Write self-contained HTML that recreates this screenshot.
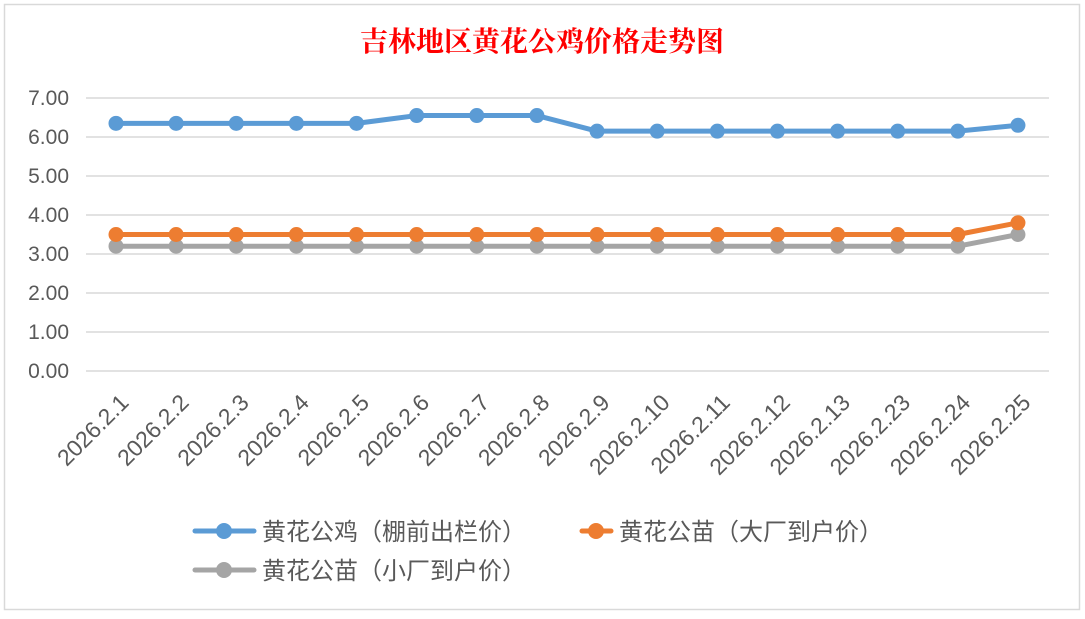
<!DOCTYPE html><html><head><meta charset="utf-8"><style>body{margin:0;background:#fff}</style></head><body>
<svg width="1085" height="614" xmlns="http://www.w3.org/2000/svg" font-family="Liberation Sans, Noto Sans CJK SC, sans-serif">
<rect x="0" y="0" width="1085" height="614" fill="#fff"/>
<rect x="4.5" y="4.5" width="1075" height="605" fill="#fff" stroke="#d9d9d9" stroke-width="1.5"/>
<text x="542" y="51" text-anchor="middle" font-family="Noto Serif CJK SC, serif" font-size="28" font-weight="bold" fill="#ff0000">吉林地区黄花公鸡价格走势图</text>
<g stroke="#d9d9d9" stroke-width="1.5">
<line x1="86" x2="1049" y1="98" y2="98"/><line x1="86" x2="1049" y1="137" y2="137"/><line x1="86" x2="1049" y1="176" y2="176"/><line x1="86" x2="1049" y1="215" y2="215"/><line x1="86" x2="1049" y1="254" y2="254"/><line x1="86" x2="1049" y1="293" y2="293"/><line x1="86" x2="1049" y1="332" y2="332"/><line x1="86" x2="1049" y1="371" y2="371"/>
</g>
<g font-size="21" fill="#595959" text-anchor="end">
<text x="69" y="105">7.00</text><text x="69" y="144">6.00</text><text x="69" y="183">5.00</text><text x="69" y="222">4.00</text><text x="69" y="261">3.00</text><text x="69" y="300">2.00</text><text x="69" y="339">1.00</text><text x="69" y="378">0.00</text>
</g>
<g id="labels" font-size="23" fill="#595959" text-anchor="end"></g>
<g id="series"></g>
<g font-size="24" fill="#595959" font-family="Noto Sans CJK SC, sans-serif">
<line x1="195" x2="254" y1="531" y2="531" stroke="#5b9bd5" stroke-width="5" stroke-linecap="round"/><circle cx="224" cy="531" r="8" fill="#5b9bd5"/>
<text x="262" y="540">黄花公鸡（棚前出栏价）</text>
<line x1="582" x2="611" y1="531" y2="531" stroke="#ed7d31" stroke-width="5" stroke-linecap="round"/><circle cx="596" cy="531" r="8" fill="#ed7d31"/>
<text x="619" y="540">黄花公苗（大厂到户价）</text>
<line x1="195" x2="254" y1="570" y2="570" stroke="#a5a5a5" stroke-width="5" stroke-linecap="round"/><circle cx="224" cy="570" r="8" fill="#a5a5a5"/>
<text x="262" y="579">黄花公苗（小厂到户价）</text>
</g>
</svg>
<script>
var ns="http://www.w3.org/2000/svg";
var labs=["2026.2.1","2026.2.2","2026.2.3","2026.2.4","2026.2.5","2026.2.6","2026.2.7","2026.2.8","2026.2.9","2026.2.10","2026.2.11","2026.2.12","2026.2.13","2026.2.23","2026.2.24","2026.2.25"];
var S=[["#5b9bd5",[6.35,6.35,6.35,6.35,6.35,6.55,6.55,6.55,6.15,6.15,6.15,6.15,6.15,6.15,6.15,6.3]],
["#a5a5a5",[3.2,3.2,3.2,3.2,3.2,3.2,3.2,3.2,3.2,3.2,3.2,3.2,3.2,3.2,3.2,3.5]],
["#ed7d31",[3.5,3.5,3.5,3.5,3.5,3.5,3.5,3.5,3.5,3.5,3.5,3.5,3.5,3.5,3.5,3.8]]];
function X(i){return 116+i*60.13}function Y(v){return 371-v*39}
var L=document.getElementById("labels");
labs.forEach(function(t,i){var e=document.createElementNS(ns,"text");var x=X(i)+14,y=404;e.setAttribute("x",x);e.setAttribute("y",y);e.setAttribute("transform","rotate(-45 "+x+" "+y+")");e.textContent=t;L.appendChild(e);});
var G=document.getElementById("series");
S.forEach(function(s){var p=s[1].map(function(v,i){return X(i)+","+Y(v)}).join(" ");var pl=document.createElementNS(ns,"polyline");pl.setAttribute("points",p);pl.setAttribute("fill","none");pl.setAttribute("stroke",s[0]);pl.setAttribute("stroke-width","5");pl.setAttribute("stroke-linejoin","round");G.appendChild(pl);
s[1].forEach(function(v,i){var c=document.createElementNS(ns,"circle");c.setAttribute("cx",X(i));c.setAttribute("cy",Y(v));c.setAttribute("r","7.5");c.setAttribute("fill",s[0]);G.appendChild(c);});});
</script>
</body></html>
